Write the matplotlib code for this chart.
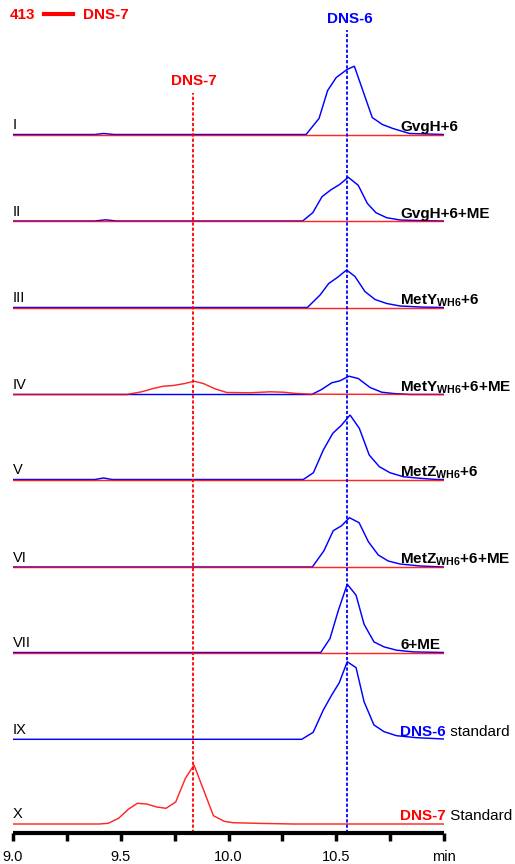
import matplotlib
matplotlib.use('Agg')
import matplotlib.pyplot as plt
from matplotlib.lines import Line2D

plt.rcParams['font.family'] = ['Liberation Sans', 'DejaVu Sans']
plt.rcParams['mathtext.fontset'] = 'custom'
plt.rcParams['mathtext.rm'] = 'Liberation Sans'
plt.rcParams['mathtext.bf'] = 'Liberation Sans:bold'

RED = '#ff0000'
BLUE = '#0000ff'

# retention time ticks (min)
major_ticks = [9.0, 9.5, 10.0, 10.5, 11.0]
major_labels = ['9.0', '9.5', '10.0', '10.5', 'min']
minor_ticks = [9.25, 9.75, 10.25, 10.75]

dns7_rt = 9.835
dns6_rt = 10.55

numerals = ['I', 'II', 'III', 'IV', 'V', 'VI', 'VII', 'IX', 'X']
names = ['GvgH+6', 'GvgH+6+ME', r'MetY$_{\mathbf{WH6}}$+6',
         r'MetY$_{\mathbf{WH6}}$+6+ME', r'MetZ$_{\mathbf{WH6}}$+6',
         r'MetZ$_{\mathbf{WH6}}$+6+ME', '6+ME', 'DNS-6', 'DNS-7']

# blue traces (DNS-6 channel), time / intensity
t_b1 = [9.0, 9.38, 9.42, 9.47, 10.36, 10.42, 10.46, 10.50, 10.55, 10.584, 10.667, 10.714, 10.763, 10.84, 11.0]
y_b1 = [0, 0, 1.0, 0, 0, 16, 44, 57, 65, 68.3, 17, 10, 6, 1, 0]
t_b2 = [9.0, 9.38, 9.43, 9.48, 10.344, 10.391, 10.434, 10.474, 10.514, 10.556, 10.602, 10.644, 10.684, 10.734, 10.796, 10.9, 11.0]
y_b2 = [0, 0, 1.2, 0, 0, 8.3, 24.3, 31, 36.3, 43.7, 35.7, 17.7, 8.3, 3.3, 1, 0.3, 0]
t_b3 = [9.0, 10.366, 10.425, 10.465, 10.505, 10.548, 10.587, 10.633, 10.68, 10.734, 10.796, 10.9, 11.0]
y_b3 = [0, 0, 12.5, 24, 30, 37.5, 31, 16, 8, 4, 1.5, 0.4, 0]
t_b4 = [9.0, 10.386, 10.432, 10.479, 10.517, 10.559, 10.602, 10.657, 10.711, 10.765, 10.842, 11.0]
y_b4 = [0, 0, 5, 11.7, 13.7, 18.3, 16, 7, 2.3, 1, 0, 0]
t_b5 = [9.0, 9.38, 9.42, 9.46, 10.347, 10.394, 10.44, 10.484, 10.525, 10.564, 10.607, 10.653, 10.70, 10.749, 10.811, 10.889, 10.966, 11.0]
y_b5 = [0, 0, 1.5, 0, 0, 6.8, 29.5, 46.2, 54.5, 64.5, 51.2, 24.5, 12.8, 6.8, 2.8, 1.2, 0, 0]
t_b6 = [9.0, 10.389, 10.443, 10.486, 10.525, 10.561, 10.606, 10.649, 10.695, 10.741, 10.796, 10.889, 11.0]
y_b6 = [0, 0, 16.3, 36.3, 41.3, 49.3, 44.3, 25.3, 12, 6, 3, 1, 0]
t_b7 = [9.0, 10.428, 10.471, 10.51, 10.551, 10.592, 10.629, 10.675, 10.722, 10.78, 10.858, 11.0]
y_b7 = [0, 0, 14, 42.3, 68.3, 57.3, 28.3, 10.6, 5.6, 2.3, 0.6, 0]
t_b9 = [9.0, 10.34, 10.393, 10.44, 10.479, 10.514, 10.551, 10.592, 10.629, 10.675, 10.722, 10.78, 10.873, 11.0]
y_b9 = [0, 0, 7, 29.3, 44.3, 56.6, 77.6, 71.6, 37.6, 14.3, 7.6, 3.6, 1.6, 0.3]

# red traces (DNS-7 channel)
t_r4 = [9.0, 9.528, 9.597, 9.651, 9.697, 9.744, 9.798, 9.84, 9.883, 9.937, 9.992, 10.10, 10.193, 10.254, 10.316, 10.378, 11.0]
y_r4 = [0, 0, 2.7, 6, 8.3, 9, 11, 13.3, 11, 5.7, 2, 1.7, 2.7, 2.3, 1, 0.3, 0]
t_r10 = [9.0, 9.40, 9.442, 9.49, 9.535, 9.577, 9.62, 9.667, 9.71, 9.755, 9.80, 9.84, 9.93, 9.98, 10.02, 10.15, 10.3, 11.0]
y_r10 = [0, 0, 0.7, 5.7, 14.7, 20.7, 20, 17, 15.7, 22, 45.7, 59, 8.3, 2.7, 1.3, 0.6, 0, 0]
t_flat = [9.0, 11.0]
y_flat = [0, 0]

blue = [(t_b1, y_b1), (t_b2, y_b2), (t_b3, y_b3), (t_b4, y_b4), (t_b5, y_b5),
        (t_b6, y_b6), (t_b7, y_b7), (t_b9, y_b9), None]
red = [(t_flat, y_flat)] * 3 + [(t_r4, y_r4)] + [(t_flat, y_flat)] * 3 + [None, (t_r10, y_r10)]

# vertical stacking of the chromatograms
offsets = [698.5, 612, 525.5, 438.5, 353.5, 266, 180.5, 93.7, 9]

fig = plt.figure(figsize=(5.15, 8.64), dpi=100)
ax = fig.add_axes([13 / 515, 31 / 864, 431 / 515, 833 / 864])
ax.set_xlim(9.0, 11.0)
ax.set_ylim(0, 833)

for i, off in enumerate(offsets):
    if blue[i] is not None:
        t, y = blue[i]
        ax.plot(t, [v + off for v in y], color=BLUE, lw=1.05, solid_joinstyle='miter')
    if red[i] is not None:
        t, y = red[i]
        ax.plot(t, [v + off for v in y], color=RED, lw=1.05, alpha=0.85, solid_joinstyle='miter')
    ax.text(9.0, off + 5.5, numerals[i], fontsize=10.5, ha='left', va='baseline')
    if i < 7:
        ax.text(10.796, off + 3.5, names[i], fontsize=11, fontweight='bold',
                ha='left', va='baseline', clip_on=False)

# standards: coloured compound name + black word
t1 = ax.text(10.796, offsets[7] + 3.5, 'DNS-6', fontsize=11, fontweight='bold',
             color=BLUE, ha='left', va='baseline', clip_on=False)
ax.annotate(' standard', xy=(1, 0), xycoords=t1, fontsize=11, ha='left', va='bottom')
t2 = ax.text(10.796, offsets[8] + 3.5, 'DNS-7', fontsize=11, fontweight='bold',
             color=RED, ha='left', va='baseline', clip_on=False)
ax.annotate(' Standard', xy=(1, 0), xycoords=t2, fontsize=11, ha='left', va='bottom')

# retention time markers
ax.plot([dns6_rt, dns6_rt], [0, 803], color=BLUE, lw=1.3, ls=(0, (1.8, 1.1)))
ax.plot([dns7_rt, dns7_rt], [0, 740], color=RED, lw=1.3, ls=(0, (1.8, 1.1)))
ax.text(dns6_rt + 0.015, 810, 'DNS-6', color=BLUE, fontsize=11, fontweight='bold',
        ha='center', va='baseline')
ax.text(dns7_rt + 0.005, 748, 'DNS-7', color=RED, fontsize=11, fontweight='bold',
        ha='center', va='baseline')

# channel legend
fig.text(10 / 515, 1 - 19.3 / 864, '413', color=RED, fontsize=11, fontweight='bold')
fig.add_artist(Line2D([44 / 515, 73 / 515], [1 - 13.5 / 864] * 2, color=RED, lw=3,
                      transform=fig.transFigure))
fig.text(83 / 515, 1 - 19.3 / 864, 'DNS-7', color=RED, fontsize=11, fontweight='bold')

for s in ['top', 'right', 'left']:
    ax.spines[s].set_visible(False)
ax.spines['bottom'].set_linewidth(3)
ax.spines['bottom'].set_capstyle('butt')
ax.set_yticks([])
ax.set_xticks(major_ticks)
ax.set_xticklabels(major_labels, fontsize=10.5)
ax.set_xticks(minor_ticks, minor=True)
ax.tick_params(axis='x', which='both', direction='out', length=6, width=2.5, pad=6)

fig.savefig('out.png', dpi=100)
